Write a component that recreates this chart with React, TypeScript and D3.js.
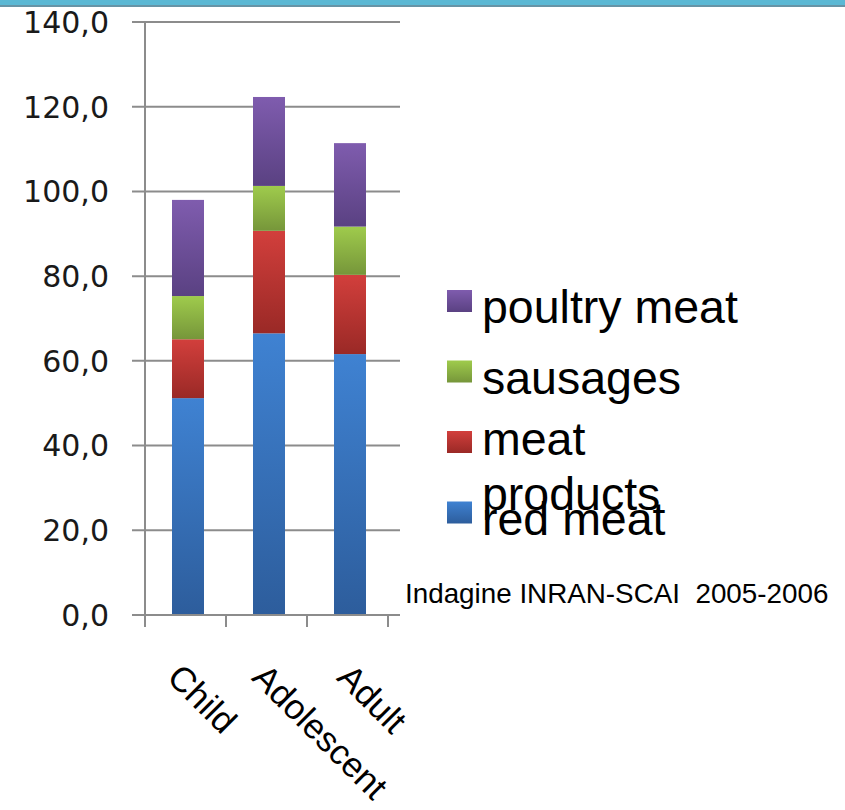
import React from "react";
import * as d3 from "d3";

const categories = ["Child", "Adolescent", "Adult"];
const seriesNames = ["red meat", "meat products", "sausages", "poultry meat"];
const redMeat = [51.2, 66.5, 61.6];
const meatProducts = [13.9, 24.2, 18.7];
const sausages = [10.2, 10.6, 11.4];
const poultryMeat = [22.7, 21.0, 19.7];
const yTicks = [0, 20, 40, 60, 80, 100, 120, 140];
const sourceNote = "Indagine INRAN-SCAI  2005-2006";

const seriesValues = [redMeat, meatProducts, sausages, poultryMeat];
const gradients = [
  ["#3f82d2", "#2d5d9c"],
  ["#d23f3c", "#9a2926"],
  ["#9fcb4c", "#76963a"],
  ["#7f5cae", "#5a4182"],
];

const W = 845;
const H = 810;
const x0 = 145;
const x1 = 388;
const yTop = 22;
const yBottom = 615;

export default function App() {
  const rows = categories.map((c, i) => {
    const r: any = { cat: c };
    seriesNames.forEach((s, k) => (r[s] = seriesValues[k][i]));
    return r;
  });
  const stacked = d3.stack().keys(seriesNames)(rows);
  const x = d3.scaleBand().domain(categories).range([x0, x1]).paddingInner(0).paddingOuter(0);
  const y = d3.scaleLinear().domain([0, 140]).range([yBottom, yTop]);
  const loc = d3.formatLocale({ decimal: ",", thousands: ".", grouping: [3], currency: ["", ""] });
  const fmt = loc.format(".1f");
  const barW = 32;
  const barShift = 2.5;

  const legendOrder = [3, 2, 1, 0];
  const legendLines = [["poultry meat"], ["sausages"], ["meat", "products"], ["red meat"]];
  const legendX = 447;
  const legendTop = 290;
  const legendStep = 70.5;

  return (
    <svg width={W} height={H} style={{ position: "absolute", left: 0, top: 0, background: "#fff" }}>
      <defs>
        {gradients.map((g, i) => (
          <linearGradient key={i} id={`g${i}`} x1="0" y1="0" x2="0" y2="1">
            <stop offset="0" stopColor={g[0]} />
            <stop offset="1" stopColor={g[1]} />
          </linearGradient>
        ))}
      </defs>
      <rect x={0} y={0} width={W} height={H} fill="#ffffff" />
      <rect x={0} y={0} width={W} height={5} fill="#5bb8d4" />
      <rect x={0} y={5} width={W} height={2} fill="#6794a6" />

      {/* gridlines */}
      {yTicks.map((t) => (
        <line key={t} x1={132} x2={400} y1={y(t)} y2={y(t)} stroke="#8c8c8c" strokeWidth={2} />
      ))}
      {/* y axis */}
      <line x1={x0} x2={x0} y1={yTop} y2={627} stroke="#8c8c8c" strokeWidth={2} />
      {/* x ticks */}
      {[x0, ...categories.map((c) => (x(c) as number) + x.bandwidth())].map((tx, i) => (
        <line key={i} x1={tx} x2={tx} y1={yBottom} y2={627} stroke="#8c8c8c" strokeWidth={2} />
      ))}

      {/* bars */}
      {stacked.map((layer, k) =>
        layer.map((d, i) => (
          <rect
            key={`${k}-${i}`}
            x={(x(categories[i]) as number) + x.bandwidth() / 2 - barW / 2 + barShift}
            y={y(d[1])}
            width={barW}
            height={y(d[0]) - y(d[1])}
            fill={`url(#g${k})`}
          />
        ))
      )}
      <line x1={132} x2={400} y1={yBottom} y2={yBottom} stroke="#8c8c8c" strokeWidth={2} />

      {/* y labels */}
      {yTicks.map((t) => (
        <text
          key={t}
          x={109}
          y={y(t)}
          dy="0.36em"
          textAnchor="end"
          fontFamily="DejaVu Sans, Verdana, sans-serif"
          fontSize={30}
          fill="#1a1a1a"
        >
          {fmt(t)}
        </text>
      ))}

      {/* x labels */}
      {categories.map((c, i) => {
        const cx = (x(c) as number) + x.bandwidth() / 2 - 20 + i * 4;
        return (
          <text
            key={c}
            transform={`translate(${cx},${679}) rotate(45)`}
            fontFamily="Liberation Sans, Arial, sans-serif"
            fontSize={35}
            fill="#000"
          >
            {c}
          </text>
        );
      })}

      {/* legend */}
      {legendOrder.map((k, j) => {
        const top = legendTop + j * legendStep;
        const lines = legendLines[j];
        const firstBase = lines.length > 1 ? top + 24 : top + 33;
        return (
          <g key={k}>
            <rect x={legendX} y={top} width={25} height={22} fill={`url(#g${k})`} />
            {lines.map((ln, li) => (
              <text
                key={li}
                x={482}
                y={firstBase + li * 55}
                fontFamily="Liberation Sans, Arial, sans-serif"
                fontSize={46.5}
                fill="#000"
              >
                {ln}
              </text>
            ))}
          </g>
        );
      })}

      <text
        x={405}
        y={603}
        fontFamily="Liberation Sans, Arial, sans-serif"
        fontSize={27.8}
        fill="#000"
        style={{ whiteSpace: "pre" }}
      >
        {sourceNote}
      </text>
    </svg>
  );
}
